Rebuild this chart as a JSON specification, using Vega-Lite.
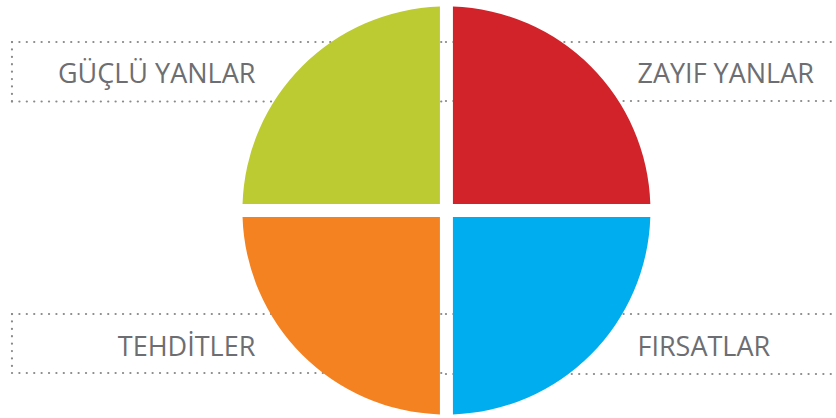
{
  "$schema": "https://vega.github.io/schema/vega-lite/v6.json",
  "width": 836,
  "height": 418,
  "autosize": {"type": "fit", "contains": "padding"},
  "padding": 0,
  "background": "white",
  "config": {"view": {"stroke": null}},
  "datasets": {
    "quarters": [
      {"k": 1, "name": "ZAYIF YANLAR", "v": 1},
      {"k": 2, "name": "FIRSATLAR", "v": 1},
      {"k": 3, "name": "TEHDİTLER", "v": 1},
      {"k": 4, "name": "GÜÇLÜ YANLAR", "v": 1}
    ],
    "dots": [
      {"x": 12, "x2": 447, "y": 42, "y2": 42},
      {"x": 12, "x2": 447, "y": 101.5, "y2": 101.5},
      {"x": 12, "x2": 12, "y": 42, "y2": 101.5},
      {"x": 447, "x2": 836, "y": 42, "y2": 42},
      {"x": 447, "x2": 836, "y": 101, "y2": 101},
      {"x": 12, "x2": 447, "y": 314, "y2": 314},
      {"x": 12, "x2": 447, "y": 373, "y2": 373},
      {"x": 12, "x2": 12, "y": 314, "y2": 373},
      {"x": 447, "x2": 836, "y": 314, "y2": 314},
      {"x": 447, "x2": 836, "y": 374, "y2": 374}
    ],
    "labelsLeft": [
      {"label": "GÜÇLÜ YANLAR", "x": 256, "y": 82.5},
      {"label": "TEHDİTLER", "x": 256, "y": 355.5}
    ],
    "labelsRight": [
      {"label": "ZAYIF YANLAR", "x": 639, "y": 82.5},
      {"label": "FIRSATLAR", "x": 639, "y": 355.5}
    ]
  },
  "layer": [
    {
      "data": {"name": "dots"},
      "mark": {"type": "rule", "stroke": "#8a8a8a", "strokeWidth": 2.2, "strokeCap": "round", "strokeDash": [0.1, 7.3]},
      "encoding": {
        "x": {"field": "x", "type": "quantitative", "scale": {"domain": [0, 836], "nice": false, "zero": false}, "axis": null},
        "x2": {"field": "x2"},
        "y": {"field": "y", "type": "quantitative", "scale": {"domain": [0, 418], "reverse": true, "nice": false, "zero": false}, "axis": null},
        "y2": {"field": "y2"}
      }
    },
    {
      "data": {"name": "quarters"},
      "mark": {"type": "arc", "outerRadius": 204, "innerRadius": 9.2, "padAngle": 0.0637},
      "encoding": {
        "x": {"datum": 447.5, "type": "quantitative", "scale": {"domain": [0, 836], "nice": false, "zero": false}, "axis": null},
        "y": {"datum": 210.5, "type": "quantitative", "scale": {"domain": [0, 418], "reverse": true, "nice": false, "zero": false}, "axis": null},
        "theta": {"field": "v", "type": "quantitative", "stack": true},
        "order": {"field": "k", "type": "quantitative"},
        "color": {
          "field": "name",
          "type": "nominal",
          "scale": {
            "domain": ["ZAYIF YANLAR", "FIRSATLAR", "TEHDİTLER", "GÜÇLÜ YANLAR"],
            "range": ["#d2232a", "#00adee", "#f58220", "#bccb32"]
          },
          "legend": null
        }
      }
    },
    {
      "data": {"name": "labelsLeft"},
      "mark": {"type": "text", "align": "right", "baseline": "alphabetic", "font": "Open Sans", "fontSize": 27, "color": "#6d6e71"},
      "encoding": {
        "x": {"field": "x", "type": "quantitative", "scale": {"domain": [0, 836], "nice": false, "zero": false}, "axis": null},
        "y": {"field": "y", "type": "quantitative", "scale": {"domain": [0, 418], "reverse": true, "nice": false, "zero": false}, "axis": null},
        "text": {"field": "label"}
      }
    },
    {
      "data": {"name": "labelsRight"},
      "mark": {"type": "text", "align": "left", "baseline": "alphabetic", "font": "Open Sans", "fontSize": 27, "color": "#6d6e71"},
      "encoding": {
        "x": {"field": "x", "type": "quantitative", "scale": {"domain": [0, 836], "nice": false, "zero": false}, "axis": null},
        "y": {"field": "y", "type": "quantitative", "scale": {"domain": [0, 418], "reverse": true, "nice": false, "zero": false}, "axis": null},
        "text": {"field": "label"}
      }
    }
  ]
}
